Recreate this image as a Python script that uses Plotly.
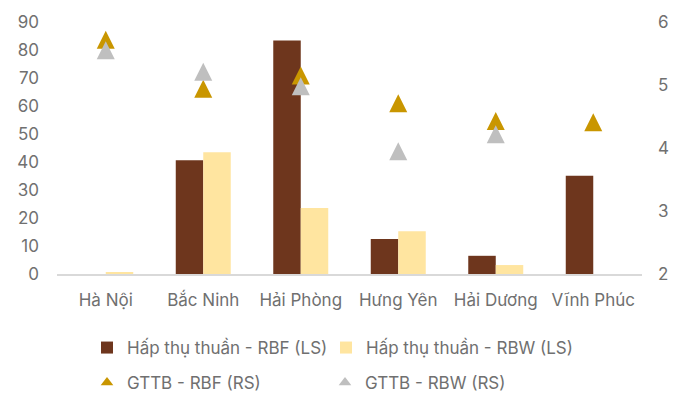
import plotly.graph_objects as go

# Provinces on the category axis
provinces = ["Hà Nội", "Bắc Ninh", "Hải Phòng", "Hưng Yên", "Hải Dương", "Vĩnh Phúc"]

# Net absorption (left scale)
absorption_rbf = [0, 40.6, 83.4, 12.5, 6.5, 35.1]
absorption_rbw = [0.7, 43.5, 23.6, 15.3, 3.2, None]

# Average rent (right scale)
rent_rbf = [5.72, 4.94, 5.15, 4.71, 4.43, 4.41]
rent_rbw = [5.55, 5.21, 4.98, 3.95, 4.22, None]

left_ticks = list(range(0, 91, 10))
right_ticks = [2, 3, 4, 5, 6]

FONT = "Inter"
TEXT_GRAY = "#707070"
BROWN = "#6e361d"
CREAM = "#ffe5a0"
GOLD = "#c99600"
SILVER = "#bfbfbf"

fig = go.Figure()

fig.add_trace(go.Bar(
    x=provinces, y=absorption_rbf, name="Hấp thụ thuần - RBF (LS)",
    marker=dict(color=BROWN, line=dict(width=0)), legend="legend",
))
fig.add_trace(go.Bar(
    x=provinces, y=absorption_rbw, name="Hấp thụ thuần - RBW (LS)",
    marker=dict(color=CREAM, line=dict(width=0)), legend="legend2",
))

# Upward triangles centred on the value: a downward arrow turned 180°
# and pushed back by half its size. Legend keys come from small
# triangle-up entries in the same legend group.
tri_size = 18
for vals, name, col, grp, leg in [
        (rent_rbf, "GTTB - RBF (RS)", GOLD, "rbf", "legend3"),
        (rent_rbw, "GTTB - RBW (RS)", SILVER, "rbw", "legend4")]:
    fig.add_trace(go.Scatter(
        x=provinces, y=vals, name=name, mode="markers", yaxis="y2",
        marker=dict(symbol="arrow-down", angle=180, standoff=tri_size / 2,
                    size=tri_size, color=col, line=dict(width=0)),
        legendgroup=grp, showlegend=False,
    ))
    fig.add_trace(go.Scatter(
        x=[None], y=[None], name=name, mode="markers", yaxis="y2",
        marker=dict(symbol="triangle-up", size=11, color=col,
                    line=dict(width=0)),
        legendgroup=grp, legend=leg,
    ))

legend_common = dict(
    orientation="h", xref="container", yref="container",
    xanchor="left", yanchor="top",
    font=dict(family=FONT, size=17, color=TEXT_GRAY),
    bgcolor="rgba(0,0,0,0)", itemclick=False, itemdoubleclick=False,
)

W, H = 689, 394
row1_top, row2_top = 330, 365
col1_x, col2_x = 87, 326

fig.update_layout(
    width=W, height=H,
    margin=dict(l=57, r=47, t=20, b=120),
    paper_bgcolor="white", plot_bgcolor="white",
    barmode="group", bargap=0.436, bargroupgap=0,
    font=dict(family=FONT, size=17, color=TEXT_GRAY),
    xaxis=dict(
        type="category", showline=True, linecolor="#d9d9d9", linewidth=2,
        ticks="", showgrid=False, zeroline=False, ticklabelstandoff=10,
        tickfont=dict(family=FONT, size=17, color=TEXT_GRAY),
    ),
    yaxis=dict(
        range=[0, 90], tickvals=left_ticks, showgrid=False, zeroline=False,
        showline=False, ticks="", ticklabelstandoff=17,
        tickfont=dict(family=FONT, size=17, color=TEXT_GRAY),
    ),
    yaxis2=dict(
        range=[2, 6], tickvals=right_ticks, overlaying="y", side="right",
        showgrid=False, zeroline=False, showline=False, ticks="",
        ticklabelstandoff=15,
        tickfont=dict(family=FONT, size=17, color=TEXT_GRAY),
    ),
    legend=dict(x=col1_x / W, y=1 - row1_top / H, **legend_common),
    legend2=dict(x=col2_x / W, y=1 - row1_top / H, **legend_common),
    legend3=dict(x=col1_x / W, y=1 - row2_top / H, **legend_common),
    legend4=dict(x=(col2_x - 1) / W, y=1 - row2_top / H, **legend_common),
    showlegend=True,
)

fig.write_html("out.html")
